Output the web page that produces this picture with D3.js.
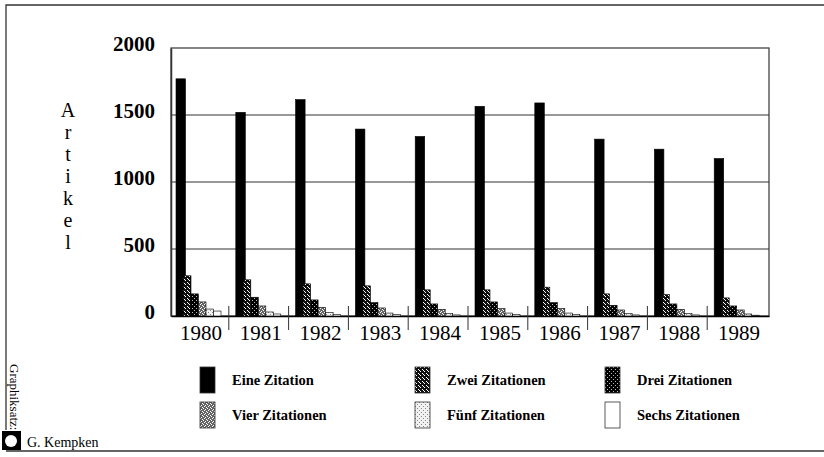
<!DOCTYPE html>
<html>
<head>
<meta charset="utf-8">
<script src="https://cdn.jsdelivr.net/npm/d3@7"></script>
<style>
  body { margin: 0; background: #fff; }
  text { font-family: "Liberation Serif", "DejaVu Serif", serif; fill: #000; }
</style>
</head>
<body>
<div id="chart"></div>
<script>
var years = ["1980","1981","1982","1983","1984","1985","1986","1987","1988","1989"];
var seriesNames = ["Eine Zitation","Zwei Zitationen","Drei Zitationen","Vier Zitationen","Fünf Zitationen","Sechs Zitationen"];
var eine   = [1770, 1520, 1615, 1395, 1340, 1565, 1590, 1320, 1245, 1175];
var zwei   = [300, 270, 240, 225, 195, 195, 215, 165, 160, 135];
var drei   = [165, 140, 120, 100, 90, 105, 100, 80, 90, 75];
var vier   = [105, 75, 65, 60, 50, 55, 55, 45, 50, 45];
var fuenf  = [52, 30, 25, 22, 20, 22, 22, 18, 18, 15];
var sechs  = [37, 15, 12, 10, 8, 10, 10, 8, 8, 6];
var yTicks = [0, 500, 1000, 1500, 2000];

var allSeries = [eine, zwei, drei, vier, fuenf, sechs];

var width = 824, height = 457;
var svg = d3.select("#chart").append("svg")
  .attr("width", width).attr("height", height);

// patterns for the hatched bars
var defs = svg.append("defs");
function speckle(id, bg, fg, pts) {
  var p = defs.append("pattern").attr("id", id)
    .attr("patternUnits", "userSpaceOnUse").attr("width", 4).attr("height", 4);
  p.append("rect").attr("width", 4).attr("height", 4).attr("fill", bg);
  pts.forEach(function(d) {
    p.append("rect").attr("x", d[0]).attr("y", d[1]).attr("width", 1).attr("height", 1).attr("fill", fg);
  });
}
speckle("p-zwei", "#111", "#fff", [[1,0],[3,2],[0,3]]);
speckle("p-drei", "#000", "#bbb", [[0,0],[2,2]]);
speckle("p-vier", "#666", "#fff", [[0,0],[2,1],[1,3],[3,2]]);
speckle("p-fuenf", "#f2f2f2", "#888", [[0,0],[2,2]]);

var fills = ["#000", "url(#p-zwei)", "url(#p-drei)", "url(#p-vier)", "url(#p-fuenf)", "#fff"];

var plotL = 171, plotR = 769, plotT = 48, plotB = 316;

var x = d3.scaleBand().domain(years).range([plotL, plotR]);
var xs = d3.scaleBand().domain(d3.range(6)).range([5, 50]).padding(0);
var y = d3.scaleLinear().domain([0, 2000]).range([plotB, plotT]);

// outer frame
svg.append("path")
  .attr("d", "M6,430 V5 H824 M6,451 H824")
  .attr("fill", "none").attr("stroke", "#333").attr("stroke-width", 1.3);

// plot frame and grid
svg.append("rect").attr("x", plotL).attr("y", plotT)
  .attr("width", plotR - plotL).attr("height", plotB - plotT)
  .attr("fill", "none").attr("stroke", "#444").attr("stroke-width", 1.3);

svg.selectAll(".grid").data(yTicks.slice(1, 4)).enter().append("line")
  .attr("class", "grid")
  .attr("x1", plotL).attr("x2", plotR)
  .attr("y1", function(d) { return y(d); }).attr("y2", function(d) { return y(d); })
  .attr("stroke", "#333").attr("stroke-width", 1.2);

// y axis
var yAxis = svg.append("g").attr("transform", "translate(" + plotL + ",0)")
  .call(d3.axisLeft(y).tickValues(yTicks).tickFormat(d3.format("d")).tickSize(0).tickPadding(16));
yAxis.select(".domain").attr("stroke", "#333").attr("stroke-width", 1.5);
yAxis.selectAll("text")
  .style("font-family", "'Liberation Serif', serif")
  .style("font-size", "21px").style("font-weight", "bold").attr("dy", "0.1em");

// x axis
var xAxis = svg.append("g").attr("transform", "translate(0," + plotB + ")")
  .call(d3.axisBottom(x).tickSize(0).tickPadding(9));
xAxis.select(".domain").attr("stroke", "#000").attr("stroke-width", 1.5);
xAxis.selectAll("text")
  .style("font-family", "'Liberation Serif', serif")
  .style("font-size", "21px").attr("dy", "0.72em");

// separators between year groups
svg.selectAll(".sep").data(years.slice(1)).enter().append("line")
  .attr("class", "sep")
  .attr("x1", function(d) { return x(d) - 2; }).attr("x2", function(d) { return x(d) - 2; })
  .attr("y1", plotB - 10).attr("y2", plotB + 14)
  .attr("stroke", "#333").attr("stroke-width", 1);

// bars
allSeries.forEach(function(vals, i) {
  svg.append("g").selectAll("rect").data(vals).enter().append("rect")
    .attr("x", function(d, j) { return x(years[j]) + xs(i); })
    .attr("y", function(d) { return y(d); })
    .attr("width", xs.bandwidth() + (i == 0 ? 2 : 0))
    .attr("height", function(d) { return y(0) - y(d); })
    .attr("fill", fills[i])
    .attr("stroke", "#000").attr("stroke-width", 0.6);
});

// vertical "Artikel" label
svg.append("g").selectAll("text").data("Artikel".split("")).enter().append("text")
  .attr("x", 68).attr("y", function(d, i) { return 117 + i * 22; })
  .attr("text-anchor", "middle")
  .style("font-size", "20px")
  .text(function(d) { return d; });

// legend
var legX = [200, 415, 605], legY = [367, 402];
var leg = svg.append("g").selectAll("g").data(seriesNames).enter().append("g")
  .attr("transform", function(d, i) {
    return "translate(" + legX[i % 3] + "," + legY[Math.floor(i / 3)] + ")";
  });
leg.append("rect").attr("width", 15).attr("height", 26)
  .attr("fill", function(d, i) { return fills[i]; })
  .attr("stroke", "#333").attr("stroke-width", 0.8);
leg.append("text").attr("x", 32).attr("y", 18)
  .style("font-size", "14.5px").style("font-weight", "bold")
  .text(function(d) { return d; });

// credit
svg.append("text")
  .attr("transform", "translate(10,364) rotate(90)")
  .style("font-size", "13px")
  .text("Graphiksatz:");
svg.append("rect").attr("x", 2).attr("y", 431).attr("width", 19).attr("height", 19).attr("fill", "#000");
svg.append("circle").attr("cx", 11).attr("cy", 441).attr("r", 6).attr("fill", "#fff");
svg.append("text").attr("x", 27).attr("y", 447)
  .style("font-size", "14px").text("G. Kempken");
</script>
</body>
</html>
